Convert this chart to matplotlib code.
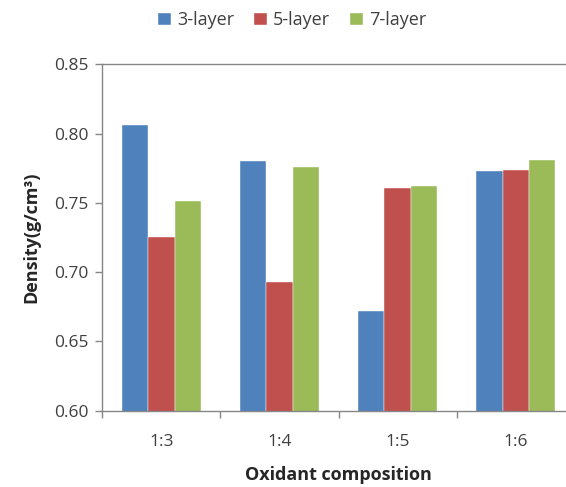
import matplotlib
matplotlib.use("Agg")
import matplotlib.pyplot as plt
import numpy as np

# data
categories = ['1:3', '1:4', '1:5', '1:6']
layer3 = [0.806, 0.780, 0.672, 0.773]
layer5 = [0.725, 0.693, 0.761, 0.774]
layer7 = [0.751, 0.776, 0.762, 0.781]
series_names = ['3-layer', '5-layer', '7-layer']

plt.rcParams['font.family'] = ['Open Sans', 'DejaVu Sans']

fig = plt.figure(figsize=(5.66, 4.87), dpi=100)
ax = fig.add_axes([0.1807, 0.1567, 0.835, 0.7113])

x = np.arange(len(categories))
w = 0.223
colors = ['#4F81BD', '#C0504D', '#9BBB59']
for i, (vals, name) in enumerate(zip([layer3, layer5, layer7], series_names)):
    ax.bar(x + (i - 1) * w, vals, w, color=colors[i], label=name,
           edgecolor='white', linewidth=0.3)

ax.set_ylim(0.60, 0.85)
ax.set_yticks(np.arange(0.60, 0.851, 0.05))
ax.set_yticklabels(['%.2f' % v for v in np.arange(0.60, 0.851, 0.05)])
ax.set_xlim(-0.5, 3.5)
ax.set_xticks(x)
ax.set_xticklabels(categories)
ax.set_xticks(np.arange(-0.5, 3.6, 1), minor=True)
ax.tick_params(axis='x', which='major', length=0, pad=17)
ax.tick_params(axis='x', which='minor', length=5, color='#868686', width=1)
ax.tick_params(axis='y', length=5, color='#868686', width=1, pad=5)
ax.tick_params(labelsize=12.5, labelcolor='#404040')

for s in ax.spines.values():
    s.set_color('#868686')
    s.set_linewidth(1)

ax.set_xlabel('Oxidant composition', fontsize=13, fontweight='bold',
              color='#262626', labelpad=11)
ax.set_ylabel('Density(g/cm³)', fontsize=13, fontweight='bold',
              color='#262626', labelpad=10)

fig.legend(loc='upper center', bbox_to_anchor=(0.516, 1.01), ncol=3,
           frameon=False, fontsize=13, handlelength=0.7, handleheight=0.7,
           handletextpad=0.35, columnspacing=1.1, labelcolor='#404040')

fig.savefig('out.png', dpi=100)
